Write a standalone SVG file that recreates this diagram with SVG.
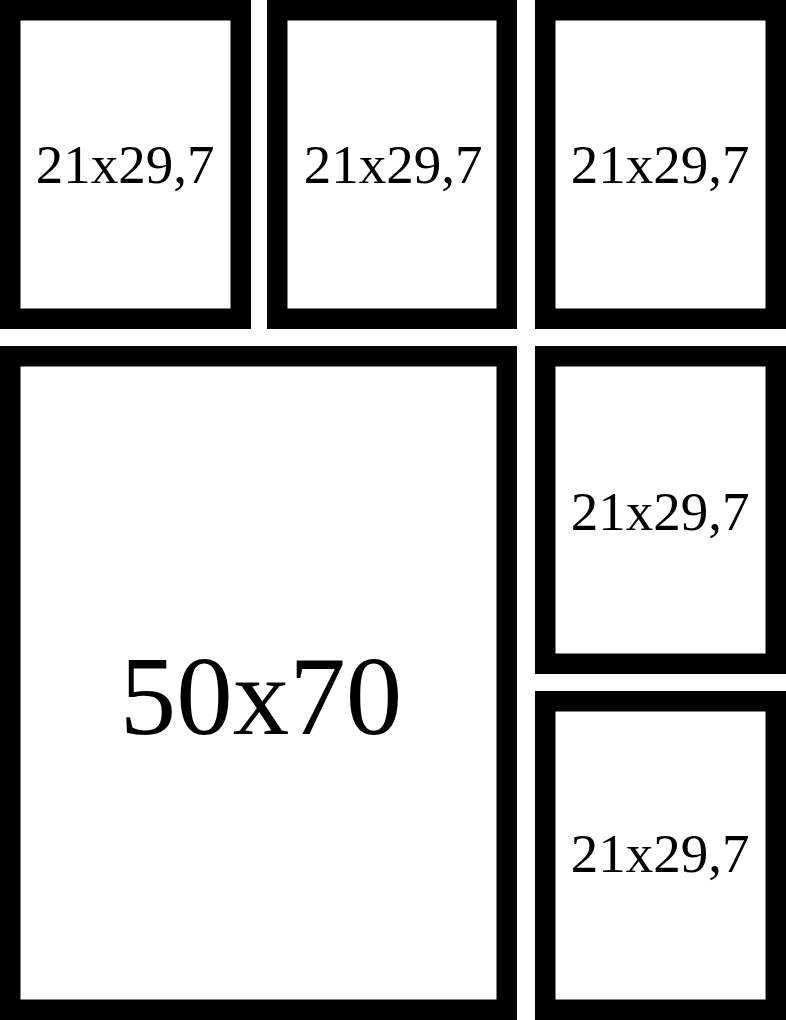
<svg xmlns="http://www.w3.org/2000/svg" width="786" height="1020" viewBox="0 0 786 1020">
<style>
.frame{fill:#fff;stroke:#000;stroke-width:20.5}
.lbl{font-family:"Liberation Serif","Times New Roman",serif;fill:#000;text-anchor:middle}
.s{font-size:55px}
.b{font-size:113px}
</style>
<rect width="786" height="1020" fill="#fff"/>
<g id="frame1"><rect class="frame" x="10.25" y="10.25" width="230.5" height="308.5"/><text class="lbl s" x="125" y="183">21x29,7</text></g>
<g id="frame2"><rect class="frame" x="277.25" y="10.25" width="229.5" height="308.5"/><text class="lbl s" x="393" y="183">21x29,7</text></g>
<g id="frame3"><rect class="frame" x="545.25" y="10.25" width="230.5" height="308.5"/><text class="lbl s" x="660" y="183">21x29,7</text></g>
<g id="frame4"><rect class="frame" x="10.25" y="356.25" width="496.5" height="653.5"/><text class="lbl b" x="261" y="734">50x70</text></g>
<g id="frame5"><rect class="frame" x="545.25" y="356.25" width="230.5" height="307.5"/><text class="lbl s" x="660" y="530">21x29,7</text></g>
<g id="frame6"><rect class="frame" x="545.25" y="701.25" width="230.5" height="308.5"/><text class="lbl s" x="660" y="872">21x29,7</text></g>
<g id="connectors"/>
</svg>
